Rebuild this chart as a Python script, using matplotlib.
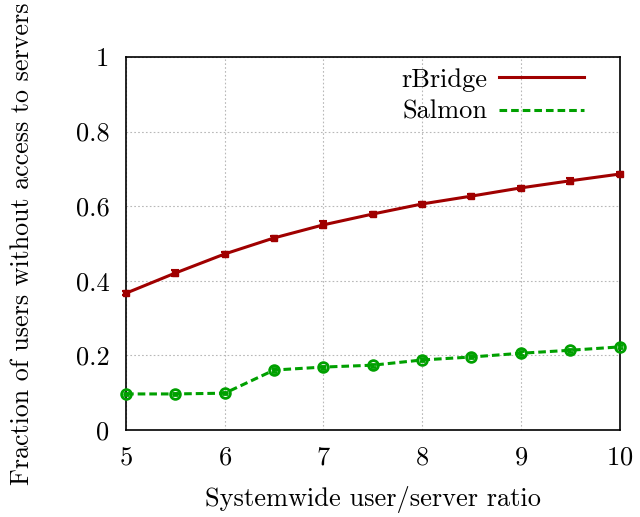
import matplotlib
matplotlib.use("Agg")
import matplotlib.pyplot as plt
from matplotlib.lines import Line2D

plt.rcParams["font.family"] = "serif"
plt.rcParams["font.serif"] = ["cmr10", "DejaVu Serif"]
plt.rcParams["mathtext.fontset"] = "cm"
plt.rcParams["axes.formatter.use_mathtext"] = True

ratio = [5, 5.5, 6, 6.5, 7, 7.5, 8, 8.5, 9, 9.5, 10]
rbridge = [0.367, 0.421, 0.472, 0.515, 0.550, 0.579, 0.606, 0.627, 0.649, 0.668, 0.686]
rbridge_err = [0.005, 0.007, 0.006, 0.006, 0.009, 0.006, 0.005, 0.005, 0.006, 0.008, 0.005]
salmon = [0.097, 0.097, 0.099, 0.161, 0.169, 0.174, 0.188, 0.196, 0.206, 0.214, 0.223]
salmon_err = [0.003, 0.003, 0.003, 0.006, 0.004, 0.004, 0.004, 0.004, 0.006, 0.004, 0.004]

RED = "#a00000"
GREEN = "#00a000"
FS = 19

fig = plt.figure(figsize=(6.4, 5.17), dpi=100)
ax = fig.add_axes([0.197, 0.168, 0.771, 0.722])

ax.errorbar(ratio, rbridge, yerr=rbridge_err, color=RED, lw=2.2, marker="s", ms=4,
            capsize=3, elinewidth=1.5, capthick=1.5, clip_on=False, zorder=3)
ax.errorbar(ratio, salmon, yerr=salmon_err, color=GREEN, lw=2.2, ls=(0, (2.5, 1.3)),
            marker="o", ms=7, mfc="none", mew=2, capsize=2, elinewidth=1.5,
            capthick=1.5, clip_on=False, zorder=3)

ax.set_xlim(5, 10)
ax.set_ylim(0, 1)
ax.set_xticks([5, 6, 7, 8, 9, 10])
ax.set_yticks([0, 0.2, 0.4, 0.6, 0.8, 1])
ax.set_yticklabels(["0", "0.2", "0.4", "0.6", "0.8", "1"])
ax.grid(True, color="#b8b8b8", ls=(0, (1.5, 2)), lw=0.8)
ax.tick_params(axis="both", length=0, labelsize=FS)
ax.tick_params(axis="x", pad=11)
ax.tick_params(axis="y", pad=12)
for s in ax.spines.values():
    s.set_linewidth(1.2)

ax.set_xlabel("Systemwide user/server ratio", fontsize=FS, labelpad=12)
ax.set_ylabel("Fraction of users without access to servers", fontsize=18.7, labelpad=30)

handles = [Line2D([], [], color=RED, lw=2.2),
           Line2D([], [], color=GREEN, lw=2.2, ls=(0, (2.5, 1.3)))]
ax.legend(handles, ["rBridge", "Salmon"], loc="upper right", frameon=False,
          markerfirst=False, fontsize=FS, handlelength=3.2, labelspacing=0.32,
          borderaxespad=0, borderpad=0, handletextpad=0.45,
          bbox_to_anchor=(1 - 36 / 494, 1 - 11 / 373))

fig.savefig("out.png", dpi=100)
